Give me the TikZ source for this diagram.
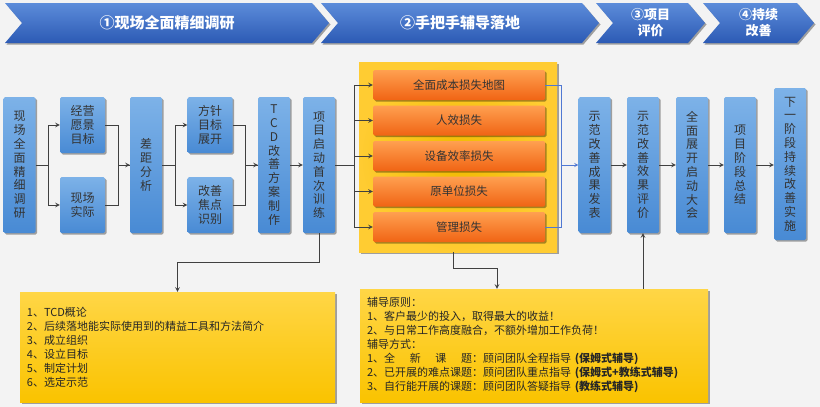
\documentclass[tikz,border=0pt]{standalone}
\usepackage{fontspec}
\setmainfont{Noto Sans CJK SC}
\usetikzlibrary{shadows,calc}

\definecolor{bannertop}{RGB}{92,140,218}
\definecolor{bannerbot}{RGB}{44,90,180}
\definecolor{boxtop}{RGB}{125,178,232}
\definecolor{boxbot}{RGB}{72,138,212}
\definecolor{losstop}{RGB}{255,160,80}
\definecolor{lossbot}{RGB}{240,100,20}
\definecolor{panelin}{RGB}{240,186,0}
\definecolor{panelout}{RGB}{255,204,50}
\definecolor{notetop}{RGB}{255,214,70}
\definecolor{notebot}{RGB}{250,195,0}
\definecolor{linkblue}{RGB}{80,120,210}
\definecolor{bg}{RGB}{243,243,243}

\tikzset{
  shadowed/.style={drop shadow={shadow xshift=1.5pt,shadow yshift=-1.5pt,opacity=.35,fill=black}},
  vbox/.style={shadowed,top color=boxtop,bottom color=boxbot,rounded corners=1.5pt,
    minimum width=32pt,minimum height=136pt,inner sep=0pt,align=center,text=black!80,
    font=\fontsize{12}{13.8}\selectfont},
  hbox/.style={vbox,minimum width=45pt,minimum height=56pt,font=\fontsize{12}{14}\selectfont},
  lossbox/.style={shadowed,top color=losstop,bottom color=lossbot,rounded corners=1.5pt,
    minimum width=172pt,minimum height=30pt,inner sep=0pt,text=black!80,
    font=\fontsize{11.5}{13}\selectfont},
  notebox/.style={shadowed,top color=notetop,bottom color=notebot,inner xsep=7pt,inner ysep=0pt,
    align=left,text=black!85,font=\fontsize{11}{14}\selectfont},
  bannertext/.style={text=white,align=center},
  conn/.style={draw=black!75,line width=1pt},
  bconn/.style={draw=linkblue,line width=.8pt},
}

\begin{document}
\begin{tikzpicture}[x=1pt,y=-1pt,>=stealth]
\fill[bg] (0,0) rectangle (820,407);
\useasboundingbox (0,0) rectangle (820,407);

% stage banners
\foreach \xa/\xb/\fs/\name/\txt in {5/312/15/stageA/{①现场全面精细调研},321/582/15/stageB/{②手把手辅导落地},596/688/13/stageC/{③项目\\评价},703/797/13/stageD/{④持续\\改善}}{
  \shade[top color=bannertop,bottom color=bannerbot,shadowed]
    (\xa,3) -- (\xb,3) -- (\xb+17,23) -- (\xb,43) -- (\xa,43) -- (\xa+17,23) -- cycle;
  \node[bannertext,font=\bfseries\fontsize{\fs}{16}\selectfont] (\name) at ({(\xa+\xb)/2+8.5},23) {\txt};
}

% phase 1
\node[vbox] (survey) at (19.5,165) {现\\场\\全\\面\\精\\细\\调\\研};
\node[hbox] (vision) at (82.5,125) {经营\\愿景\\目标};
\node[hbox] (actual) at (82.5,205) {现场\\实际};
\node[vbox] (gap) at (146,165) {差\\距\\分\\析};
\node[hbox] (policy) at (210,125) {方针\\目标\\展开};
\node[hbox] (focus) at (210,205) {改善\\焦点\\识别};
\node[vbox] (tcd) at (274,165) {T\\C\\D\\改\\善\\方\\案\\制\\作};
\node[vbox] (kickoff) at (319,165) {项\\目\\启\\动\\首\\次\\训\\练};

% phase 2
\node[shadowed,inner color=panelin,outer color=panelout,minimum width=198pt,minimum height=190pt] (panel) at (458,157) {};
\foreach \i/\y/\txt in {1/85/全面成本损失地图,2/120.5/人效损失,3/156/设备效率损失,4/191.5/原单位损失,5/227/管理损失}
  \node[lossbox] (loss\i) at (459,\y) {\txt};

% phase 3 and 4
\node[vbox] (demo) at (594.5,165) {示\\范\\改\\善\\成\\果\\发\\表};
\node[vbox] (eval) at (643,165) {示\\范\\改\\善\\效\\果\\评\\价};
\node[vbox] (launch) at (692,165) {全\\面\\展\\开\\启\\动\\大\\会};
\node[vbox] (summary) at (740,165) {项\\目\\阶\\段\\总\\结};
\node[vbox,minimum height=152pt] (next) at (790,164) {下\\一\\阶\\段\\持\\续\\改\\善\\实\\施};

% notes
\node[notebox,text width=301pt,minimum height=110pt] (note1) at (177.5,347) {1、TCD概论\\
2、后续落地能实际使用到的精益工具和方法简介\\
3、成立组织\\
4、设立目标\\
5、制定计划\\
6、选定示范};
\node[notebox,text width=334pt,minimum height=113pt] (note2) at (534,345.5) {辅导原则：\\
1、客户最少的投入，取得最大的收益！\\
2、与日常工作高度融合，不额外增加工作负荷！\\
辅导方式：\\
1、\makebox[8em][s]{全\hfill 新\hfill 课\hfill 题}：顾问团队全程指导 \textbf{(保姆式辅导)}\\
2、已开展的难点课题：顾问团队重点指导 \textbf{(保姆式+教练式辅导)}\\
3、自行能开展的课题：顾问团队答疑指导 \textbf{(教练式辅导)}};

% connectors
\draw[conn] (survey.east) -- ++(13,0) coordinate (s1);
\draw[conn,->] (s1) |- (vision.west);
\draw[conn,->] (s1) |- (actual.west);
\draw[conn,->] (vision.east) -- ++(13,0) |- (gap.west);
\draw[conn] (actual.east) -- ++(13,0) |- (gap.west);
\draw[conn] (gap.east) -- ++(13,0) coordinate (g1);
\draw[conn,->] (g1) |- (policy.west);
\draw[conn,->] (g1) |- (focus.west);
\draw[conn,->] (policy.east) -- ++(13,0) |- (tcd.west);
\draw[conn] (focus.east) -- ++(13,0) |- (tcd.west);
\draw[conn,->] (tcd.east) -- (kickoff.west);
\draw[conn] (kickoff.east) -- ++(19,0) coordinate (k1);
\foreach \i in {1,...,5}
  \draw[conn,->] (k1) |- (loss\i.west);
\draw[bconn] (loss1.east) -- ++(16,0) coordinate (b1) |- (loss5.east);
\draw[bconn,->] (b1 |- demo.west) -- (demo.west);
\draw[conn,->] (demo.east) -- (eval.west);
\draw[conn,->] (eval.east) -- (launch.west);
\draw[conn,->] (launch.east) -- (summary.west);
\draw[conn,->] (summary.east) -- (summary.east -| next.west);
\draw[conn,->] (kickoff.south) -- ++(0,29) -| (note1.north);
\draw[conn,->] ([xshift=-5pt]panel.south) -- ++(0,16) -| ([xshift=-37pt]note2.north);
\draw[conn,->] (note2.north -| eval.south) -- (eval.south);
\end{tikzpicture}
\end{document}
